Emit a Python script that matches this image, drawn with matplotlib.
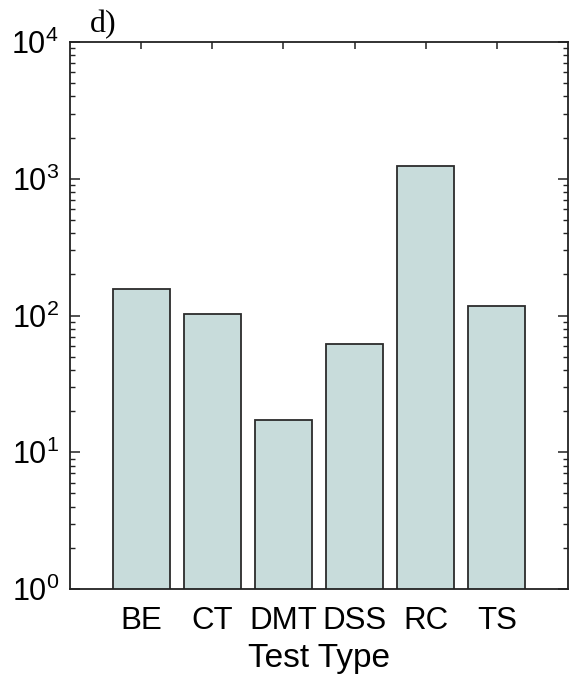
import matplotlib
matplotlib.use('Agg')
import matplotlib.pyplot as plt
from matplotlib.ticker import LogLocator, NullFormatter

# Bar heights per test type (log scale)
test_types = ['BE', 'CT', 'DMT', 'DSS', 'RC', 'TS']
counts     = [155, 103, 17.1, 62, 1230, 118]

BAR_FACE = '#c8dcdb'
EDGE     = '#2b2b2b'

plt.rcParams['font.family'] = ['Liberation Sans', 'DejaVu Sans']
plt.rcParams['mathtext.fontset'] = 'custom'
plt.rcParams['mathtext.rm'] = 'Liberation Sans'
plt.rcParams['mathtext.it'] = 'Liberation Sans:italic'

fig = plt.figure(figsize=(5.76, 6.77), dpi=100)
ax = fig.add_axes([70/576, 1 - 589/677, 498/576, 547/677])

pos = list(range(1, len(test_types) + 1))
ax.bar(pos, counts, width=0.8, color=BAR_FACE, edgecolor=EDGE,
       linewidth=1.3, zorder=2)

ax.set_yscale('log')
ax.set_ylim(1, 1e4)
ax.set_xlim(0, len(test_types) + 1)

ax.yaxis.set_major_locator(LogLocator(base=10, numticks=10))
ax.yaxis.set_minor_locator(LogLocator(base=10, subs=range(2, 10), numticks=10))
ax.yaxis.set_minor_formatter(NullFormatter())

ax.set_xticks(pos)
ax.set_xticklabels(test_types)
ax.set_xlabel('Test Type', fontsize=24, labelpad=5)

ax.tick_params(axis='both', which='both', direction='in',
               top=True, right=True, color='#222222')
ax.tick_params(axis='y', which='major', length=7, width=1.1,
               labelsize=22, pad=8)
ax.tick_params(axis='y', which='minor', length=3.5, width=1.0)
ax.tick_params(axis='x', which='major', length=5, width=1.1,
               labelsize=22.5, pad=12)
ax.tick_params(axis='x', which='minor', length=0)

for sp in ax.spines.values():
    sp.set_linewidth(1.3)
    sp.set_color('#222222')

fig.text(103/576, 1 - 32/677, 'd)', family='Liberation Serif',
         fontsize=23, ha='center', va='baseline')

fig.savefig('out.png', dpi=100, facecolor='white')
